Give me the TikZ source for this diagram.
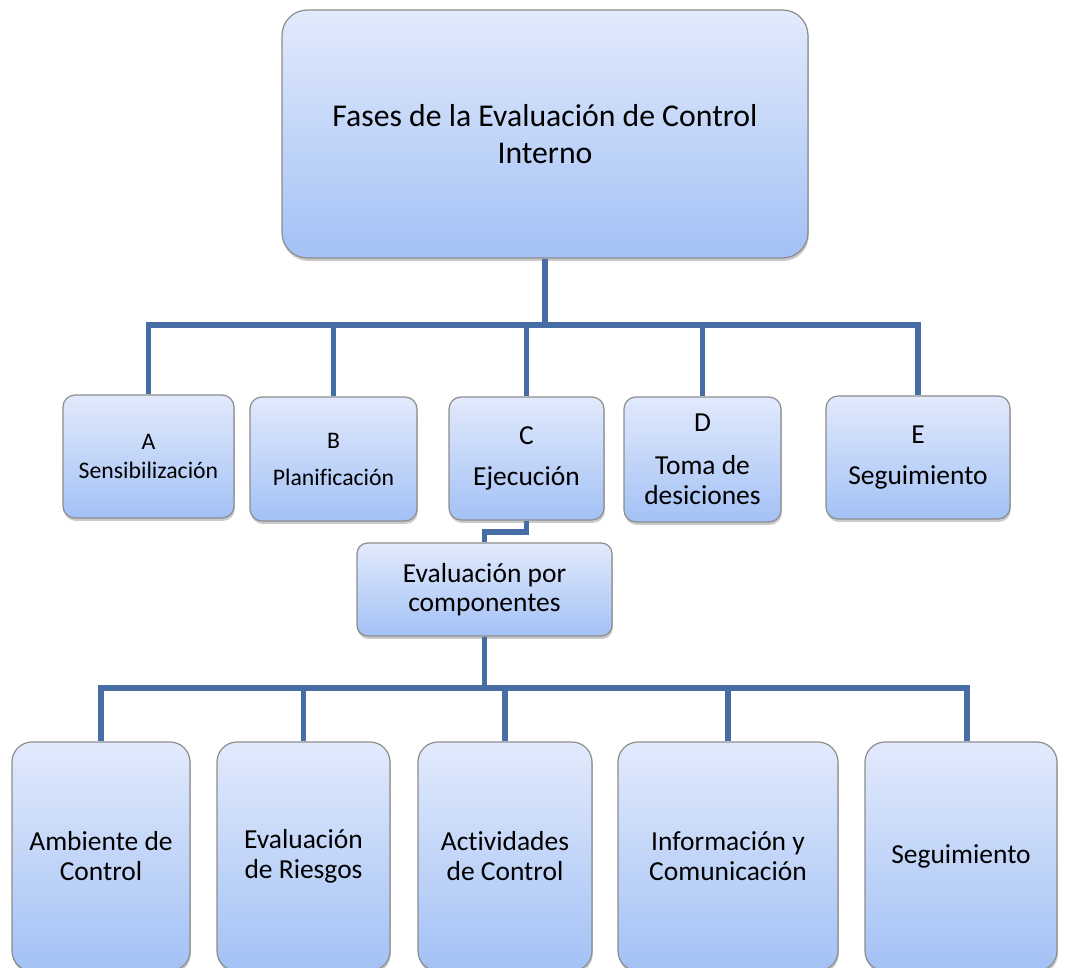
\documentclass[tikz,border=0pt]{standalone}
\usepackage{fontspec}
\setmainfont[Ligatures=CommonOff]{Carlito}
\usetikzlibrary{shadows}
\definecolor{boxtop}{RGB}{226,234,252}
\definecolor{boxbot}{RGB}{163,193,245}
\definecolor{boxedge}{RGB}{140,140,140}
\definecolor{linkblue}{RGB}{70,110,165}
\tikzset{
  box/.style={draw=boxedge, line width=0.9pt, top color=boxtop, bottom color=boxbot,
    inner sep=0pt, align=center, text=black,
    drop shadow={shadow xshift=0.6pt, shadow yshift=-2.2pt, opacity=0.35, fill=black!60}},
  conn/.style={draw=linkblue, line width=3.8pt, line cap=butt, line join=miter},
  big/.style={font=\fontsize{23.8}{27.75}\selectfont},
  mid/.style={font=\fontsize{20.6}{22.5}\selectfont},
  small/.style={font=\fontsize{17.8}{21.75}\selectfont},
}
\begin{document}
\begin{tikzpicture}[x=0.75pt,y=-0.75pt]
\useasboundingbox (0,0) rectangle (1065,968);
\clip (0,0) rectangle (1065,968);
% top
\node[box,big,rounded corners=19pt,minimum width=394.5pt,minimum height=186pt] (top) at (545,134)
  {Fases de la Evaluación de Control\\Interno};
% second row
\node[box,small,rounded corners=9pt,minimum width=128.25pt,minimum height=92.25pt] (A) at (148.5,456.5)
  {A\\Sensibilización};
\node[box,small,rounded corners=9pt,minimum width=125.25pt,minimum height=93pt] (B) at (333.5,459)
  {B\\[6pt]Planificación};
\node[box,mid,rounded corners=9pt,minimum width=116.25pt,minimum height=92.25pt] (C) at (526.5,458.5)
  {C\\[8.25pt]Ejecución};
\node[box,mid,rounded corners=9pt,minimum width=117.75pt,minimum height=93.75pt] (D) at (702.5,459.5)
  {D\\[9.75pt]Toma de\\desiciones};
\node[box,mid,rounded corners=9pt,minimum width=138pt,minimum height=92.25pt] (E) at (918,457.5)
  {E\\[8.25pt]Seguimiento};
% middle
\node[box,mid,rounded corners=8pt,minimum width=191.25pt,minimum height=69.75pt] (ev) at (484.5,589.5)
  {Evaluación por\\[-1pt]componentes};
% bottom row
\node[box,mid,rounded corners=15pt,minimum width=133.5pt,minimum height=171.75pt] (amb) at (101,856.5)
  {Ambiente de\\Control};
\node[box,mid,rounded corners=15pt,minimum width=129.75pt,minimum height=171.75pt] (evr) at (303.5,856.5)
  {Evaluación\\de Riesgos};
\node[box,mid,rounded corners=15pt,minimum width=130.5pt,minimum height=171.75pt] (act) at (505,856.5)
  {Actividades\\de Control};
\node[box,mid,rounded corners=15pt,minimum width=165pt,minimum height=171.75pt] (inf) at (728,856.5)
  {Información y\\Comunicación};
\node[box,mid,rounded corners=15pt,minimum width=144pt,minimum height=171.75pt] (seg) at (961,856.5)
  {Seguimiento};
% connectors
\coordinate (bus1) at (545,325);
\coordinate (cj) at (505,532);
\coordinate (bus2) at (484.5,688);
\draw[conn] (top.south) -- (bus1);
\draw[conn] (bus1) -| (A.north);
\draw[conn] (bus1) -| (B.north);
\draw[conn] (bus1) -| (C.north);
\draw[conn] (bus1) -| (D.north);
\draw[conn] (bus1) -| (E.north);
\draw[conn] (C.south) |- (cj) -| (ev.north);
\draw[conn] (ev.south) -- (bus2);
\draw[conn] (bus2) -| (amb.north);
\draw[conn] (bus2) -| (evr.north);
\draw[conn] (bus2) -| (act.north);
\draw[conn] (bus2) -| (inf.north);
\draw[conn] (bus2) -| ([xshift=4.5pt]seg.north);
\end{tikzpicture}
\end{document}
